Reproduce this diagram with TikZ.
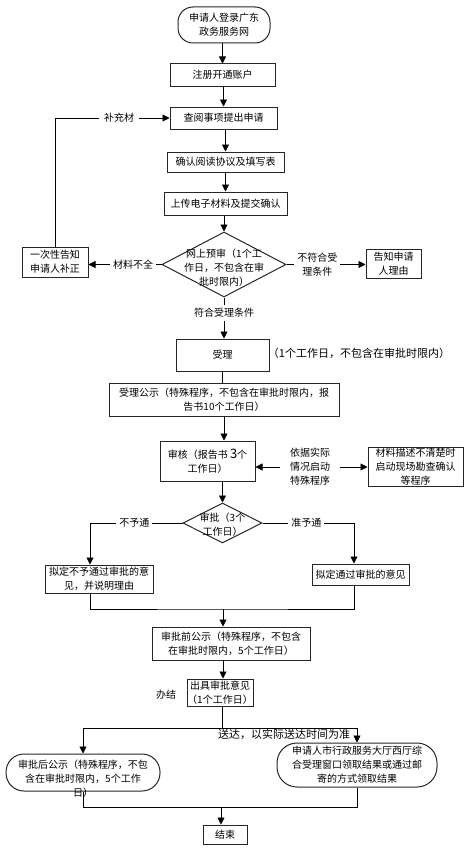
\documentclass[tikz,border=0pt]{standalone}
\usepackage{fontspec}
\setmainfont{Noto Sans CJK SC}
\usetikzlibrary{positioning,shapes.geometric,arrows.meta}

\begin{document}
\begin{tikzpicture}[x=1pt,y=-1pt,line width=0.7pt,
	every node/.style={font=\fontsize{10}{14}\selectfont,align=center,inner sep=1pt},
	blk/.style={draw=black!85,line width=1pt,inner sep=0pt},
	rnd/.style={blk,rounded corners=#1},
	dia/.style={draw=black!85,diamond,line width=1pt,inner sep=0pt},
	lbl/.style={fill=white,inner sep=3pt},
	big/.style={font=\fontsize{11}{14}\selectfont},
	>={Triangle[length=7pt,width=7pt]}]

\useasboundingbox (0,0) rectangle (470,851);

\node[rnd=15pt,minimum width=92pt,minimum height=36pt](1) at (224,25) {申请人登录广东\\政务服务网};
\node[blk,minimum width=105pt,minimum height=22pt](2) at (222.5,75) {注册开通账户};
\node[blk,minimum width=107pt,minimum height=22pt](3) at (223.5,118) {查阅事项提出申请};
\node[blk,minimum width=117pt,minimum height=20pt](4) at (225.5,162) {确认阅读协议及填写表};
\node[blk,minimum width=123pt,minimum height=23pt](5) at (225.5,203.5) {上传电子材料及提交确认};
\node[dia,minimum width=124pt,minimum height=65pt](6) at (224,264.5) {};
\node(6t) at (224,268) {网上预审（1个工\\作日，不包含在审\\批时限内）};
\node[blk,minimum width=66pt,minimum height=30pt](7) at (55,262) {一次性告知\\申请人补正};
\node[blk,minimum width=55pt,minimum height=29pt](8) at (393.5,263.5) {告知申请\\人理由};
\node[blk,minimum width=93pt,minimum height=32pt](9) at (222.5,355) {受理};
\node[big](9t) at (359,353) {（1个工作日，不包含在审批时限内）};
\node[blk,minimum width=230pt,minimum height=33pt](10) at (224,399.5) {受理公示（特殊程序，不包含在审批时限内，报\\告书10个工作日）};
\node[blk,minimum width=95pt,minimum height=40pt](11) at (207.5,461) {审核（报告书 {\fontsize{13}{14}\selectfont 3}个\\工作日）};
\node[inner xsep=10pt](11t) at (310,467) {依据实际\\情况启动\\特殊程序};
\node[blk,minimum width=95pt,minimum height=39pt](12) at (415.5,466.5) {材料描述不清楚时\\启动现场勘查确认\\等程序};
\node[dia,minimum width=79pt,minimum height=40pt](13) at (222.5,523) {};
\node(13t) at (222.5,525) {审批（3个\\工作日）};
\node[blk,minimum width=108pt,minimum height=28pt](14) at (99,579) {拟定不予通过审批的意\\见，并说明理由};
\node[blk,minimum width=97pt,minimum height=21pt](15) at (360.5,574.5) {拟定通过审批的意见};
\node[blk,minimum width=158pt,minimum height=33pt](16) at (231,643.5) {审批前公示（特殊程序，不包含\\在审批时限内，5个工作日）};
\node[blk,minimum width=66pt,minimum height=27pt](17) at (220,692.5) {出具审批意见\\（1个工作日）};
\node(17t) at (166,695) {办结};
\node[rnd=20pt,minimum width=160pt,minimum height=44pt](18) at (357,765) {申请人市行政服务大厅西厅综\\合受理窗口领取结果或通过邮\\寄的方式领取结果};
\node[rnd=18pt,minimum width=154pt,minimum height=37pt](19) at (83,772.5) {};
\node(19t) at (83,779) {审批后公示（特殊程序，不包\\含在审批时限内，5个工作\\日）};
\node[blk,minimum width=44pt,minimum height=19pt](20) at (225,834.5) {结束};

\foreach \x/\y in {1/2,2/3,3/4,4/5,5/6,11/13}
	\draw[->](\x.south-|\y.north)--(\y.north);
\draw(9.south)--(9.south|-10.north);
\draw[->](10.south)--(10.south|-11.north);

\draw[->](6.west)--node[lbl,pos=0.39]{材料不全}(6.west-|7.east);
\draw[->](6.east)--node[lbl,pos=0.39]{不符合受\\理条件}(6.east-|8.west);
\draw[->](6.south)--node[lbl,pos=0.38]{符合受理条件}(6.south|-9.north);
\draw[->](7.north)|-node[lbl,pos=0.78,inner xsep=5pt]{补充材}(3.west);

\draw[->](11t.west)--(11t.west-|11.east);
\draw[->](11t.east)--(11t.east-|12.west);

\draw[->](13.west)-|node[lbl,pos=0.26]{不予通}([xshift=-9pt]14.north);
\draw[->](13.east)-|node[lbl,pos=0.24]{准予通}([xshift=-6.5pt]15.north);

\coordinate(j1) at (223,609);
\draw([xshift=-9pt]14.south)|-(j1)-|([xshift=-6.5pt]15.south);
\draw[->](j1)--(j1|-16.north);
\draw[->](j1|-16.south)--(j1|-17.north);

\coordinate(j2) at (222,728);
\draw(j2|-17.south)--(j2);
\draw[->](j2)-|(19.north);
\draw[->](j2)-|node[pos=0.23,below,big,inner sep=1pt]{送达，以实际送达时间为准}(18.north);

\coordinate(j3) at (221,807);
\draw(19.south)|-(j3)-|(18.south);
\draw[->](j3)--(j3|-20.north);

\end{tikzpicture}
\end{document}
